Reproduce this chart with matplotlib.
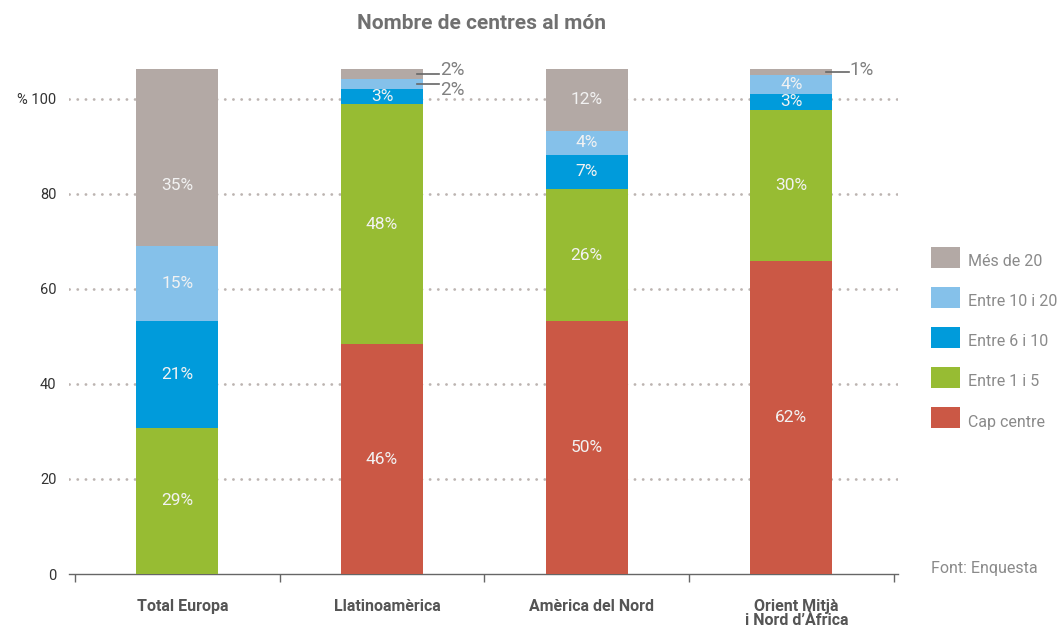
import numpy as np
import matplotlib
matplotlib.use("Agg")
import matplotlib.pyplot as plt
from matplotlib.patches import Rectangle

plt.rcParams['font.family'] = ['Roboto', 'DejaVu Sans']

# data (percent per region, bottom to top)
regions = ['Total Europa', 'Llatinoamèrica', 'Amèrica del Nord', 'Orient Mitjà\ni Nord d’Àfrica']
series_names = ['Cap centre', 'Entre 1 i 5', 'Entre 6 i 10', 'Entre 10 i 20', 'Més de 20']
cap_centre = [0, 45.5, 50, 62]
entre_1_5 = [29, 47.5, 26.3, 29.9]
entre_6_10 = [21, 3, 6.6, 3.2]
entre_10_20 = [15, 2, 4.9, 3.7]
mes_20 = [35, 2, 12.2, 1.2]

lab_cap = ['', '46%', '50%', '62%']
lab_1_5 = ['29%', '48%', '26%', '30%']
lab_6_10 = ['21%', '3%', '7%', '3%']
lab_10_20 = ['15%', '2%', '4%', '4%']
lab_20 = ['35%', '2%', '12%', '1%']

colors = ['#cb5845', '#97bc33', '#009bdb', '#85c1ea', '#b3a9a5']
bar_scale = 1.063   # bars run a bit past the 100 line in the original

series = [cap_centre, entre_1_5, entre_6_10, entre_10_20, mes_20]
labels = [lab_cap, lab_1_5, lab_6_10, lab_10_20, lab_20]

fig = plt.figure(figsize=(10.61, 6.29), dpi=100)
ax = fig.add_axes([0.065, 0.0874, 0.781, 0.803])

x = np.arange(len(regions))
bottom = np.zeros(len(regions))
for k, vals in enumerate(series):
    h = np.array(vals) * bar_scale
    ax.bar(x, h, 0.4, bottom=bottom, color=colors[k], zorder=3)
    for i in range(len(regions)):
        txt = labels[k][i]
        if txt == '' or vals[i] == 0:
            continue
        yc = bottom[i] + h[i] / 2
        outside = vals[i] < 2.5
        if outside:
            # small slices get a leader line to the right
            if k == 4 and i == 1:
                ty = yc + 0.8
            elif k == 3 and i == 1:
                ty = yc - 1.3
            else:
                ty = yc + 0.4
            ax.plot([x[i] + 0.17, x[i] + 0.28], [yc, yc], color='#666666', lw=1.2, zorder=4)
            ax.text(x[i] + 0.285, ty, txt, ha='left', va='center', fontsize=13.5,
                    color='#808080')
        else:
            dy = -6 if (k == 4 and i == 0) else 0
            ax.text(x[i], yc + dy, txt, ha='center', va='center', fontsize=12.5,
                    color='#f2f2f2', zorder=5)
    bottom += h

ax.set_xlim(-0.53, 3.52)
ax.set_ylim(0, 100 * bar_scale)

yt = [0, 20, 40, 60, 80, 100]
ax.set_yticks(yt)
ax.set_yticklabels(['0', '20', '40', '60', '80', '% 100'], fontsize=10.5, color='#333333')
ax.tick_params(axis='y', length=0, pad=9)
for v in yt[1:]:
    ax.axhline(v, color='#bcb4b1', lw=2, linestyle=(0, (0.05, 2.9)),
               dash_capstyle='round', zorder=1)

ax.set_xticks(np.arange(len(regions) + 1) - 0.5)
ax.set_xticklabels([])
ax.tick_params(axis='x', length=6, width=1, color='#666666', direction='out')
for i, r in enumerate(regions):
    ax.text(x[i] + 0.025, -5.2, r, ha='center', va='top', fontsize=11.5, fontweight='bold',
            color='#555555', linespacing=0.95)

for s in ['top', 'right', 'left']:
    ax.spines[s].set_visible(False)
ax.spines['bottom'].set_color('#666666')
ax.spines['bottom'].set_linewidth(1)

fig.text(0.454, 0.963, 'Nombre de centres al món', ha='center', va='center',
         fontsize=15, fontweight='bold', color='#707070')

# legend drawn by hand: top entry first
W, H = 1061, 629
for j, k in enumerate(range(4, -1, -1)):
    top = 247 + 40 * j
    fig.patches.append(Rectangle((931 / W, 1 - (top + 21) / H), 29 / W, 21 / H,
                                 transform=fig.transFigure, facecolor=colors[k],
                                 edgecolor='none'))
    fig.text(968 / W, 1 - (top + 15) / H, series_names[k], ha='left', va='center',
             fontsize=11.5, color='#8a8a8a')

fig.text(931 / W, 1 - 568 / H, 'Font: Enquesta', ha='left', va='center',
         fontsize=11.5, color='#8a8a8a')

fig.savefig('out.png', dpi=100)
